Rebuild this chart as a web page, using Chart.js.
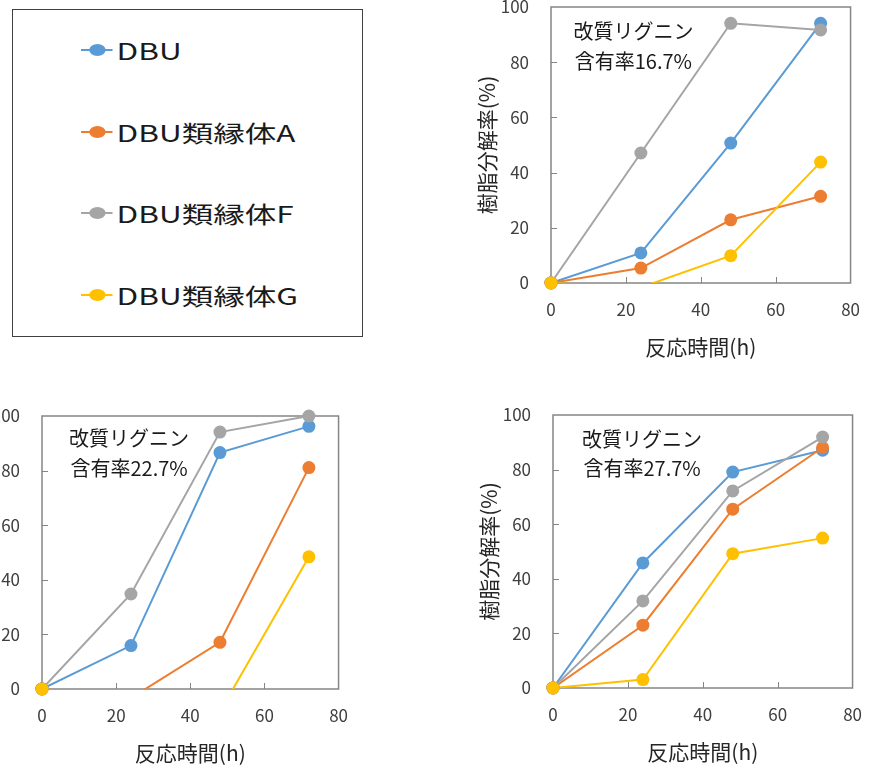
<!DOCTYPE html>
<html lang="ja">
<head>
<meta charset="utf-8">
<script src="https://cdn.jsdelivr.net/npm/chart.js@4.4.1/dist/chart.umd.min.js"></script>
<style>
  body { margin: 0; background: #fff; width: 874px; height: 771px; overflow: hidden; position: relative; font-family: "Noto Sans CJK JP", sans-serif; }
  canvas { position: absolute; }
  #legend { position: absolute; left: 12px; top: 9px; width: 351px; height: 328px; border: 1.5px solid #404040; box-sizing: border-box; }
  .row { position: absolute; left: 68px; height: 30px; transform: scaleX(1.37); transform-origin: 0 50%; display: flex; align-items: center; font-size: 23px; color: #1a1a1a; white-space: nowrap; }
  .mk { position: relative; width: 23px; height: 12px; margin-right: 3px; flex: none; }
  .mk i { position: absolute; left: 0; right: 0; top: 5px; height: 2px; }
  .mk b { position: absolute; left: 5.5px; top: 0; width: 12px; height: 12px; border-radius: 50%; }
</style>
</head>
<body>
<div id="legend"></div>
<canvas id="c167"></canvas>
<canvas id="c227"></canvas>
<canvas id="c277"></canvas>
<script>
const hours = [0, 24, 48, 72];
const seriesNames = ['DBU', 'DBU類縁体A', 'DBU類縁体F', 'DBU類縁体G'];
const seriesColors = ['#5B9BD5', '#ED7D31', '#A5A5A5', '#FFC000'];
const xTicks = [0, 20, 40, 60, 80];
const yTicks = [0, 20, 40, 60, 80, 100];

// 改質リグニン含有率16.7%
const dbu167 = [0, 10.9, 50.7, 94.1];
const a167 = [0, 5.4, 22.9, 31.4];
const f167 = [0, 47.1, 94.1, 91.7];
const g167 = [0, -1.6, 9.9, 43.8];

// 改質リグニン含有率22.7%
const dbu227 = [0, 15.9, 86.6, 96.2];
const a227 = [0, -3.3, 17.1, 81.1];
const f227 = [0, 34.8, 94.1, 100];
const g227 = [0, -5, -8.3, 48.4];

// 改質リグニン含有率27.7%
const dbu277 = [0, 45.8, 79.1, 87.1];
const a277 = [0, 23.0, 65.5, 88.1];
const f277 = [0, 31.9, 72.2, 91.9];
const g277 = [0, 3.1, 49.2, 54.9];

const FONT = '"Noto Sans CJK JP", "Noto Sans", sans-serif';

// legend panel
const legend = document.getElementById('legend');
seriesNames.forEach((name, i) => {
  const row = document.createElement('div');
  row.className = 'row';
  row.style.top = (25 + i * 81.7) + 'px';
  row.innerHTML = '<span class="mk"><i style="background:' + seriesColors[i] + '"></i><b style="background:' + seriesColors[i] + '"></b></span>' + name;
  legend.appendChild(row);
});

// plot frame, inner tick marks, note text, and markers sitting on the x axis
const boxPlugin = {
  id: 'box',
  beforeDatasetsDraw(chart, args, opts) {
    const { ctx, chartArea: a, scales: { x, y } } = chart;
    ctx.save();
    ctx.strokeStyle = '#858585';
    ctx.lineWidth = 1.5;
    ctx.strokeRect(a.left, a.top, a.width, a.height);
    ctx.lineWidth = 1;
    xTicks.slice(1, -1).forEach(v => {
      const px = Math.round(x.getPixelForValue(v)) + 0.5;
      ctx.beginPath(); ctx.moveTo(px, a.bottom); ctx.lineTo(px, a.bottom - 6); ctx.stroke();
    });
    yTicks.slice(1, -1).forEach(v => {
      const py = Math.round(y.getPixelForValue(v)) + 0.5;
      ctx.beginPath(); ctx.moveTo(a.left, py); ctx.lineTo(a.left + 6, py); ctx.stroke();
    });
    ctx.fillStyle = '#1a1a1a';
    ctx.font = '20px ' + FONT;
    ctx.textAlign = 'center';
    ctx.textBaseline = 'middle';
    const cx = x.getPixelForValue(opts.noteX);
    ctx.fillText('改質リグニン', cx, y.getPixelForValue(opts.noteY1));
    ctx.fillText('含有率' + opts.rate, cx, y.getPixelForValue(opts.noteY2));
    ctx.restore();
  },
  afterDatasetsDraw(chart) {
    chart.data.datasets.forEach((ds, i) => {
      const meta = chart.getDatasetMeta(i);
      meta.data.forEach((pt, j) => {
        if (ds.data[j].y === 0) pt.draw(chart.ctx, chart.chartArea);
      });
    });
  }
};

// y axis box width, x axis box height, top / right padding around the plot
const YW = 80, XH = 80, PT = 34, PR = 20;

function makeChart(id, rate, values, plot, note) {
  const cv = document.getElementById(id);
  cv.width = plot.w + YW + PR;
  cv.height = plot.h + PT + XH;
  cv.style.left = (plot.x - YW) + 'px';
  cv.style.top = (plot.y - PT) + 'px';

  const datasets = seriesNames.map((name, i) => ({
    label: name,
    data: values[i],
    borderColor: seriesColors[i],
    backgroundColor: seriesColors[i],
    borderWidth: 2,
    pointRadius: c => (c.raw.y < 0 ? 0 : 6.5),
    pointBorderWidth: 0,
    tension: 0,
    order: seriesNames.length - 1 - i,
    clip: { left: 12, top: 12, right: 12, bottom: 0 }
  }));

  return new Chart(cv, {
    type: 'line',
    data: { datasets },
    plugins: [boxPlugin],
    options: {
      responsive: false,
      animation: false,
      events: [],
      layout: { padding: { top: PT, right: PR, left: 0, bottom: 0 } },
      plugins: {
        legend: { display: false },
        tooltip: { enabled: false },
        box: { rate, noteX: note.x, noteY1: note.y1, noteY2: note.y2 }
      },
      scales: {
        x: {
          type: 'linear',
          min: 0, max: 80,
          afterBuildTicks: s => { s.ticks = xTicks.map(v => ({ value: v })); },
          afterFit: s => { s.height = XH; },
          grid: { display: false, drawTicks: false },
          border: { display: false },
          ticks: { padding: 16, color: '#404040', font: { size: 17, family: FONT } },
          title: { display: true, text: '反応時間(h)', color: '#262626', padding: { top: 0, bottom: 3 }, font: { size: 21, family: FONT } }
        },
        y: {
          min: 0, max: 100,
          afterBuildTicks: s => { s.ticks = yTicks.map(v => ({ value: v })); },
          afterFit: s => { s.width = YW; },
          grid: { display: false, drawTicks: false },
          border: { display: false },
          ticks: { padding: 22, color: '#404040', font: { size: 17, family: FONT } },
          title: { display: true, text: '樹脂分解率(%)', color: '#262626', padding: { top: 3, bottom: 0 }, font: { size: 21, family: FONT } }
        }
      }
    }
  });
}

function toPoints(arr) { return arr.map((v, i) => ({ x: hours[i], y: v })); }

makeChart('c167', '16.7%', [dbu167, a167, f167, g167].map(toPoints),
  { x: 551, y: 7, w: 305, h: 276 }, { x: 22, y1: 91, y2: 80.2 });
makeChart('c227', '22.7%', [dbu227, a227, f227, g227].map(toPoints),
  { x: 42, y: 416, w: 302, h: 273 }, { x: 23.5, y1: 91.7, y2: 80.7 });
makeChart('c277', '27.7%', [dbu277, a277, f277, g277].map(toPoints),
  { x: 553, y: 415, w: 305, h: 273 }, { x: 23.8, y1: 91, y2: 80.4 });
</script>
</body>
</html>
